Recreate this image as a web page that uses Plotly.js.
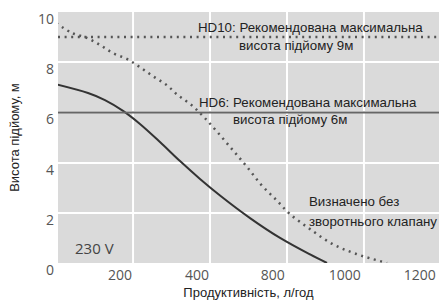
<!DOCTYPE html>
<html>
<head>
<meta charset="utf-8">
<script src="https://cdn.plot.ly/plotly-3.0.1.min.js"></script>
<style>html,body{margin:0;padding:0;background:#fff;}#chart{width:439px;height:302px;}</style>
</head>
<body>
<div id="chart"></div>
<script>
// Flow values (l/h, in gridline units) and lift heights (m)
const solidFlow = [0, 83, 127, 174, 218, 270, 322, 374, 426, 504, 582, 660, 704];
const solidHead = [7.12, 6.77, 6.49, 6.06, 5.54, 4.82, 4.06, 3.35, 2.69, 1.79, 1.0, 0.34, 0.0];
const dotFlow = [0, 42, 81, 115, 148, 185, 218, 252, 288, 317, 353, 385, 420, 459, 495, 534, 573, 607, 659, 718, 780, 860];
const dotHead = [9.56, 9.16, 8.96, 8.68, 8.36, 8.12, 7.8, 7.44, 7.08, 6.68, 6.28, 5.8, 5.2, 4.5, 3.85, 3.1, 2.5, 1.96, 1.36, 0.76, 0.36, 0.0];
const hd10Level = 9;
const hd6Level = 6;
const xGrid = [200, 400, 600, 800];
const yTicks = [0, 2, 4, 6, 8, 10];
const xLabelPos = [166, 366, 563, 750, 945];
const xLabelText = ['200', '400', '800', '1000', '1200'];
const xRange = [5, 995];

const tickFont = {family: 'Open Sans, sans-serif', size: 14, color: '#555'};
const txtFont = {family: 'Liberation Sans, Arial, sans-serif', size: 13.3, color: '#222'};
const titleFont = {family: 'Liberation Sans, Arial, sans-serif', size: 13, color: '#222'};

const traces = [
  {x: dotFlow, y: dotHead, mode: 'lines', line: {color: '#555', width: 2.5, dash: '2px,4.6px', shape: 'spline'}, hoverinfo: 'skip', showlegend: false},
  {x: solidFlow, y: solidHead, mode: 'lines', line: {color: '#333', width: 2, shape: 'spline'}, hoverinfo: 'skip', showlegend: false}
];

const gridShapes = xGrid.map(v => ({type: 'line', layer: 'below', xref: 'x', yref: 'paper', x0: v, x1: v, y0: 0, y1: 1, line: {color: '#fff', width: 2}}));

const layout = {
  width: 439, height: 302,
  margin: {l: 58, r: 0, t: 12, b: 39},
  paper_bgcolor: '#fff',
  plot_bgcolor: '#dadada',
  showlegend: false,
  xaxis: {
    range: xRange, tickvals: xLabelPos, ticktext: xLabelText, ticks: '',
    showgrid: false, zeroline: false, showline: false,
    tickfont: tickFont, ticklabelstandoff: 2,
    title: {text: 'Продуктивність, л/год', font: titleFont, standoff: 4}
  },
  yaxis: {
    range: [0, 10], tickvals: yTicks, ticks: '', showgrid: true, gridcolor: '#fff', gridwidth: 2,
    zeroline: false, showline: false, tickfont: tickFont, ticklabelshift: 7, ticklabelstandoff: 3,
    title: {text: 'Висота підйому, м', font: titleFont, standoff: 15}
  },
  shapes: gridShapes.concat([
    {type: 'line', xref: 'paper', yref: 'y', x0: 0, x1: 1, y0: hd10Level, y1: hd10Level, line: {color: '#555', width: 2.5, dash: '2px,4.6px'}},
    {type: 'line', xref: 'paper', yref: 'y', x0: 0, x1: 1, y0: hd6Level, y1: hd6Level, line: {color: '#666', width: 2}}
  ]),
  annotations: [
    {xref: 'paper', yref: 'paper', x: 0.664, y: 0.940, text: 'HD10: Рекомендована максимальна', showarrow: false, font: txtFont, xanchor: 'center', yanchor: 'middle'},
    {xref: 'paper', yref: 'paper', x: 0.625, y: 0.865, text: 'висота підйому 9м', showarrow: false, font: txtFont, xanchor: 'center', yanchor: 'middle'},
    {xref: 'paper', yref: 'paper', x: 0.655, y: 0.641, text: 'HD6: Рекомендована максимальна', showarrow: false, font: txtFont, xanchor: 'center', yanchor: 'middle'},
    {xref: 'paper', yref: 'paper', x: 0.609, y: 0.570, text: 'висота підйому 6м', showarrow: false, font: txtFont, xanchor: 'center', yanchor: 'middle'},
    {xref: 'paper', yref: 'paper', x: 0.654, y: 0.247, text: 'Визначено без', showarrow: false, font: txtFont, xanchor: 'left', yanchor: 'middle'},
    {xref: 'paper', yref: 'paper', x: 0.654, y: 0.167, text: 'зворотнього клапану', showarrow: false, font: txtFont, xanchor: 'left', yanchor: 'middle'},
    {xref: 'paper', yref: 'paper', x: 0.039, y: 0.060, text: '230 V', showarrow: false, font: {family: 'Open Sans, sans-serif', size: 15, color: '#444'}, xanchor: 'left', yanchor: 'middle'}
  ]
};

Plotly.newPlot('chart', traces, layout, {staticPlot: true, displayModeBar: false});
</script>
</body>
</html>
